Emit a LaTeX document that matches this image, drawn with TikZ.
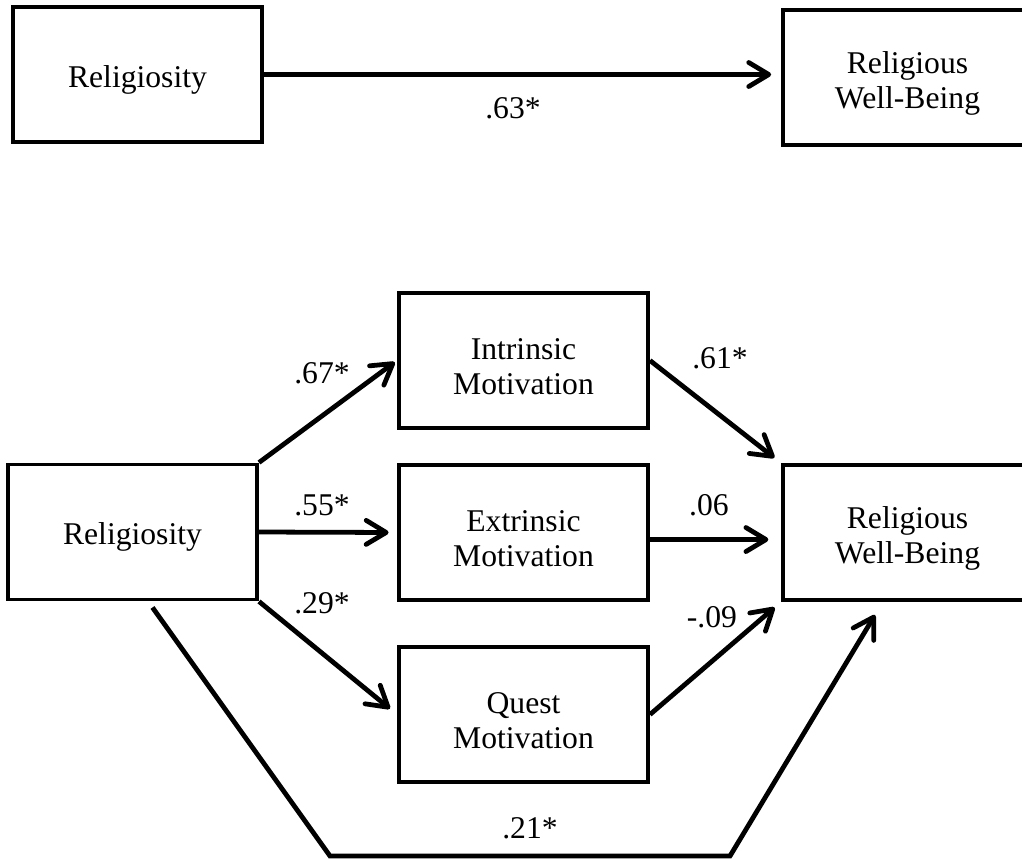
\documentclass[tikz,border=0pt]{standalone}
\usepackage{fontspec}
\setmainfont{Liberation Serif}
\usepackage{tikz}
\usetikzlibrary{calc}
\usetikzlibrary{arrows.meta,arrows}
\def\px{0.025}

\begin{document}
\begin{tikzpicture}[x=\px cm, y=-\px cm,
  every node/.style={font=\fontsize{22.5}{25}\selectfont},
  box/.style={draw, rectangle, line width=2.8pt, minimum width=6.225cm, minimum height=3.375cm, align=center, inner sep=0pt, text height=0.8cm},
  twobox/.style={box, text height=1.72cm},
  effect/.style={line width=3.4pt, -{Straight Barb[length=5mm,width=6mm,round]}},
  coef/.style={inner sep=0pt}]

\useasboundingbox (0,0) rectangle (1022,858);
\clip (0,0) rectangle (1022,858);

% total effect

\node[box] (relA) at (137.5,74.5) {Religiosity};
\node[twobox] (rwbA) at (907.5,77.5) {Religious\\Well-Being};

\draw[effect, shorten >=7pt] (relA.east) -- (relA.east -| rwbA.west);
\node[coef] (c63) at (513,108) {.63*};

% mediation model

\node[box] (rel) at (132.5,532) {Religiosity};
\node[twobox] (intr) at (523.5,360.5) {Intrinsic\\Motivation};
\node[twobox] (extr) at (523.5,532.5) {Extrinsic\\Motivation};
\node[twobox] (quest) at (523.5,714.5) {Quest\\Motivation};
\node[twobox] (rwb) at (907.5,532.5) {Religious\\Well-Being};

% a paths
\draw[effect, shorten >=2pt] (rel.north east) -- (intr.west);
\draw[effect, shorten >=6pt] (rel.east) -- (extr.west);
\draw[effect, shorten >=6.5pt] (rel.south east) -- (quest.west);

% b paths
\draw[effect, shorten >=6pt] (intr.east) -- (rwb.north west);
\draw[effect, shorten >=9pt] ([yshift=-5pt]extr.east) -- ([yshift=-5pt]rwb.west);
\draw[effect, shorten >=6pt] (quest.east) -- (rwb.south west);

% direct path
\coordinate (d0) at ($(rel.south)+(20,6)$);
\coordinate (d1) at (330,856);
\coordinate (d2) at (730,856);
\coordinate (d3) at ($(rwb.south)+(-32.5,13)$);
\draw[effect] (d0) -- (d1) -- (d2) -- (d3);

% coefficients
\node[coef] (c67) at (322,373) {.67*};
\node[coef] (c55) at (322,505) {.55*};
\node[coef] (c29) at (322,603) {.29*};
\node[coef] (c61) at (720,358) {.61*};
\node[coef] (c06) at (709,505) {.06};
\node[coef] (c09) at (712,617) {-.09};
\node[coef] (c21) at (530,828) {.21*};

\end{tikzpicture}
\end{document}
